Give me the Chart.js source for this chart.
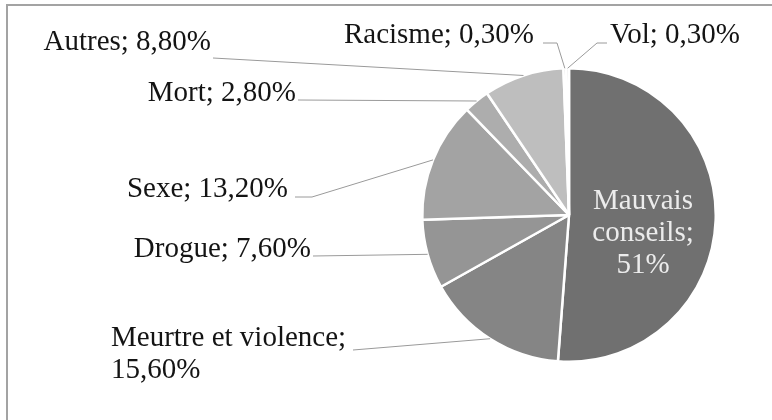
<!DOCTYPE html>
<html>
<head>
<meta charset="utf-8">
<script src="https://cdn.jsdelivr.net/npm/chart.js@4/dist/chart.umd.min.js"></script>
<style>
html,body{margin:0;padding:0;background:#fff;}
#wrap{position:relative;width:772px;height:420px;}
canvas{display:block;}
</style>
</head>
<body>
<div id="wrap"><canvas id="c" width="772" height="420"></canvas></div>
<script>
// ---- data ----
const categories = ["Mauvais conseils", "Meurtre et violence", "Drogue", "Sexe", "Mort", "Autres", "Racisme", "Vol"];
const values = [51, 15.6, 7.6, 13.2, 2.8, 8.8, 0.3, 0.3];
const sliceColors = ["#707070", "#858585", "#959595", "#a3a3a3", "#adadad", "#bebebe", "#c8c8c8", "#d0d0d0"];

// ---- label layout (text placement only) ----
const labelLayout = [
  {mode: 'inside', x: 643, y: 209, maxW: 130, color: '#ececec'},
  {mode: 'block', x: 111, y: 346, maxW: 255, lx: 353, ly: 350},
  {mode: 'left', x: 311, y: 257, lx: 313, ly: 256},
  {mode: 'left', x: 288, y: 197, lx: 295, ly: 197, ex: 312, ey: 197},
  {mode: 'left', x: 296, y: 101, lx: 298, ly: 100},
  {mode: 'left', x: 211, y: 50, lx: 213, ly: 58},
  {mode: 'left', x: 534, y: 43, lx: 543, ly: 43, ex: 557, ey: 43},
  {mode: 'right', x: 610, y: 43, lx: 607, ly: 43, ex: 597, ey: 43}
];

const FONT = '29px "Liberation Serif"';
const LINE_H = 32;

function fmt(v) {
  if (Number.isInteger(v)) return v + '%';
  return v.toFixed(2).replace('.', ',') + '%';
}

function wrap(ctx, text, maxW) {
  const words = text.split(' ');
  const lines = [];
  let cur = '';
  for (const w of words) {
    const t = cur ? cur + ' ' + w : w;
    if (cur && ctx.measureText(t).width > maxW) { lines.push(cur); cur = w; }
    else cur = t;
  }
  if (cur) lines.push(cur);
  return lines;
}

const framePlugin = {
  id: 'frame',
  beforeDraw(chart) {
    const ctx = chart.ctx;
    ctx.save();
    ctx.strokeStyle = '#a3a3a3';
    ctx.lineWidth = 2;
    ctx.strokeRect(7, 5, 900, 600);
    ctx.restore();
  }
};

const labelPlugin = {
  id: 'pieLabels',
  afterDatasetsDraw(chart) {
    const ctx = chart.ctx;
    const meta = chart.getDatasetMeta(0);
    ctx.save();
    ctx.textBaseline = 'alphabetic';
    meta.data.forEach((arc, i) => {
      const L = labelLayout[i];
      const text = categories[i] + '; ' + fmt(values[i]);
      ctx.font = FONT;
      if (L.mode === 'inside') {
        const lines = wrap(ctx, text, L.maxW);
        ctx.fillStyle = L.color;
        ctx.textAlign = 'center';
        lines.forEach((ln, k) => ctx.fillText(ln, L.x, L.y + k * LINE_H));
        return;
      }
      const mid = (arc.startAngle + arc.endAngle) / 2;
      const px = arc.x + Math.cos(mid) * arc.outerRadius;
      const py = arc.y + Math.sin(mid) * arc.outerRadius;
      ctx.strokeStyle = '#9a9a9a';
      ctx.lineWidth = 1;
      ctx.beginPath();
      ctx.moveTo(L.lx, L.ly);
      if (L.ex !== undefined) ctx.lineTo(L.ex, L.ey);
      ctx.lineTo(px, py);
      ctx.stroke();
      ctx.fillStyle = '#141414';
      ctx.font = FONT;
      if (L.mode === 'block') {
        const lines = wrap(ctx, text, L.maxW);
        ctx.textAlign = 'left';
        lines.forEach((ln, k) => ctx.fillText(ln, L.x, L.y + k * LINE_H));
      } else if (L.mode === 'left') {
        ctx.textAlign = 'right';
        ctx.fillText(text, L.x, L.y);
      } else {
        ctx.textAlign = 'left';
        ctx.fillText(text, L.x, L.y);
      }
    });
    ctx.restore();
  }
};

new Chart(document.getElementById('c'), {
  type: 'pie',
  data: {
    labels: categories,
    datasets: [{
      data: values,
      backgroundColor: sliceColors,
      borderColor: '#ffffff',
      borderWidth: 2.5
    }]
  },
  options: {
    responsive: false,
    animation: false,
    layout: {padding: {left: 421, right: 55, top: 67, bottom: 57}},
    plugins: {legend: {display: false}, tooltip: {enabled: false}}
  },
  plugins: [framePlugin, labelPlugin]
});
</script>
</body>
</html>
